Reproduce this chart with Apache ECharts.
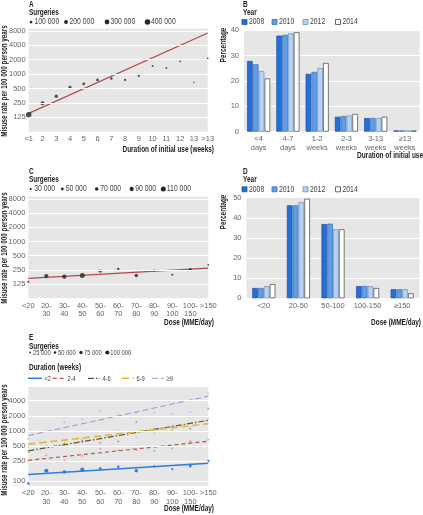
<!DOCTYPE html>
<html><head><meta charset="utf-8">
<script src="https://cdn.jsdelivr.net/npm/echarts@6/dist/echarts.min.js"></script>
<style>html,body{margin:0;padding:0;background:#fff}#c{width:423px;height:515px}</style>
</head><body><div id="c"></div>
<script>
// ---------- Panel A ----------
const weeksCats = ['<1','2','3','4','5','6','7','8','9','10','11','12','13','>13'];
const aRates = [142,245,344,530,624,757,806,757,917,1485,1347,1850,674,2140];
const aSurgeries = [400000,210000,150000,110000,100000,90000,80000,70000,60000,50000,45000,40000,30000,40000];
const aTrend = [151,7260];
const aLegend = [100000,200000,300000,400000];
const logTicks = [125,250,500,1000,2000,4000,8000];

// ---------- Panel B ----------
const bCats = ['<4\ndays','4-7\ndays','1-2\nweeks','2-3\nweeks','3-13\nweeks','≥13\nweeks'];
const b2008 = [27.9,37.9,22.8,5.9,5.4,0.5];
const b2010 = [26.6,38.2,23.6,6.2,5.4,0.5];
const b2012 = [23.9,38.8,25.1,6.4,5.4,0.5];
const b2014 = [21.0,39.2,27.1,7.0,5.9,0.5];
const years = ['2008','2010','2012','2014'];

// ---------- Panel C ----------
const doseCats = ['<20','20-\n30','30-\n40','40-\n50','50-\n60','60-\n70','70-\n80','80-\n90','90-\n100','100-\n150','>150'];
const cRates = [140,185,179,191,236,260,191,243,198,255,321];
const cSurgeries = [30000,90000,90000,110000,60000,40000,70000,30000,30000,50000,20000];
const cTrend = [165,273];
const cLegend = [30000,50000,70000,90000,110000];

// ---------- Panel D ----------
const dCats = ['<20','20-50','50-100','100-150','≥150'];
const d2008 = [5.1,46.2,36.9,6.1,4.5];
const d2010 = [5.1,46.2,37.1,6.1,4.5];
const d2012 = [6.0,47.8,34.3,6.0,4.5];
const d2014 = [7.1,49.5,34.3,5.1,2.5];

// ---------- Panel E ----------
const eNames = ['<2','2-4','4-6','6-9','≥9'];
const eLt2 = [90,161,152,169,177,194,161,196,174,200,251];
const e2to4 = [250,330,263,320,440,415,415,400,450,625,670];
const e4to6 = [380,500,560,640,580,620,1500,1100,1000,1100,2800];
const e6to9 = [480,600,600,700,750,1050,750,900,1200,1200,1700];
const eGe9 = [700,1000,1490,1700,2490,2220,2270,2310,2170,2380,5600];
const eTrendLt2 = [135,226];
const eTrend2to4 = [259,624];
const eTrend4to6 = [402,1626];
const eTrend6to9 = [545,1397];
const eTrendGe9 = [808,4930];
const eSurgLt2 = [50000,100000,75000,100000,60000,50000,75000,40000,40000,60000,50000];
const eLegend = [25000,50000,75000,100000];
const eTicks = [100,250,500,1000,2000,4000];

// ---------- styling ----------
const FAM = "'Liberation Sans',Arial,sans-serif";
const BG = '#e6e6e6';
const TXT = '#666';
const TS = 7.5;
const barColors = ['#1f6fde','#5f9de9','#b4d3f6','#ffffff'];
const barBorders = ['#2a4f8f','#3f6fae','#6d8fb8','#444'];
const eColors = ['#2f7de1','#c0504d','#5b5530','#e8b33a','#9b93d6'];
const eDash = ['solid',[4,3],[6,2,1.5,2],[7,4],[6,3]];
const eWidth = [1.5,1.2,1.2,1.6,1];

const sizeA = n => 5.5*Math.sqrt(n/400000);
const sizeC = n => 1 + 4*(n/110000);
const sizeE = n => 1 + 3.2*(n/100000);

function gridMark(ticks){
  return {
    silent:true, symbol:['none','none'], animation:false,
    lineStyle:{color:'#fff',width:1,type:'solid'},
    label:{show:true,position:'start',distance:3,color:TXT,fontSize:TS,fontFamily:FAM,formatter:p=>String(p.value)},
    data: ticks.map(t=>({yAxis:t}))
  };
}
function catAxis(i,data,bg){
  return {type:'category',gridIndex:i,data:data,boundaryGap:bg,
    axisLine:{show:false},axisTick:{show:false},splitLine:{show:false},
    axisLabel:{color:TXT,fontSize:TS,fontFamily:FAM,margin:3,lineHeight:8.5,interval:0}};
}
function logAxis(i,min,max){
  return {type:'log',logBase:2,gridIndex:i,min:min,max:max,
    axisLine:{show:false},axisTick:{show:false},splitLine:{show:false},axisLabel:{show:false}};
}
function valAxis(i,max){
  return {type:'value',gridIndex:i,min:0,max:max,interval:10,
    axisLine:{show:false},axisTick:{show:false},
    splitLine:{show:true,lineStyle:{color:'#fff',width:1}},
    axisLabel:{color:TXT,fontSize:TS,fontFamily:FAM,margin:5}};
}

const series = [];
series.push({type:'line',xAxisIndex:0,yAxisIndex:0,data:[],z:1,markLine:gridMark(logTicks)});
series.push({type:'line',xAxisIndex:2,yAxisIndex:2,data:[],z:1,markLine:gridMark(logTicks)});
series.push({type:'line',xAxisIndex:4,yAxisIndex:4,data:[],z:1,markLine:gridMark(eTicks)});

// A
series.push({type:'line',xAxisIndex:0,yAxisIndex:0,z:3,symbol:'none',
  lineStyle:{color:'#b8474a',width:1.2},
  data:[[weeksCats[0],aTrend[0]],[weeksCats[weeksCats.length-1],aTrend[1]]]});
series.push({type:'scatter',xAxisIndex:0,yAxisIndex:0,z:4,
  itemStyle:{color:'#262626'},
  symbolSize:(v,p)=>sizeA(aSurgeries[p.dataIndex]),
  data:aRates});

// B
[b2008,b2010,b2012,b2014].forEach((d,k)=>{
  series.push({type:'bar',name:years[k],xAxisIndex:1,yAxisIndex:1,data:d,barWidth:5.6,barGap:'4%',
    itemStyle:{color:barColors[k],borderColor:barBorders[k],borderWidth:0.7}});
});
// D
[d2008,d2010,d2012,d2014].forEach((d,k)=>{
  series.push({type:'bar',name:years[k],xAxisIndex:3,yAxisIndex:3,data:d,barWidth:5.6,barGap:'4%',
    itemStyle:{color:barColors[k],borderColor:barBorders[k],borderWidth:0.7}});
});

// C
series.push({type:'line',xAxisIndex:2,yAxisIndex:2,z:3,symbol:'none',
  lineStyle:{color:'#b8474a',width:1.2},
  data:[[doseCats[0],cTrend[0]],[doseCats[doseCats.length-1],cTrend[1]]]});
series.push({type:'scatter',xAxisIndex:2,yAxisIndex:2,z:4,
  itemStyle:{color:'#262626'},
  symbolSize:(v,p)=>sizeC(cSurgeries[p.dataIndex]),
  data:cRates});

// E
const ePts = [eLt2,e2to4,e4to6,e6to9,eGe9];
const eTr = [eTrendLt2,eTrend2to4,eTrend4to6,eTrend6to9,eTrendGe9];
ePts.forEach((d,k)=>{
  series.push({type:'scatter',xAxisIndex:4,yAxisIndex:4,z:3,
    itemStyle:{color:eColors[k],opacity:k===0?1:0.55},
    symbolSize:k===0?((v,p)=>sizeE(eSurgLt2[p.dataIndex])):1.8,
    data:d});
});
eTr.forEach((d,k)=>{
  series.push({type:'line',xAxisIndex:4,yAxisIndex:4,z:4,symbol:'none',
    lineStyle:{color:eColors[k],width:eWidth[k],type:eDash[k]},
    data:[[doseCats[0],d[0]],[doseCats[doseCats.length-1],d[1]]]});
});

// ---------- graphics: titles, legends, axis names ----------
const g = [];
function txt(x,y,s,opt){
  opt=opt||{};
  g.push({type:'text',x:x,y:y,rotation:opt.rot||0,scaleX:opt.sx||0.76,scaleY:1,silent:true,
    style:{text:s,fill:opt.color||'#222',font:(opt.bold?'bold ':'')+(opt.size||8.5)+'px '+FAM,
      textAlign:opt.align||'left',textVerticalAlign:'middle'}});
}
function dot(x,y,r){ g.push({type:'circle',silent:true,shape:{cx:x,cy:y,r:r},style:{fill:'#262626'}}); }
function fmtN(n){ return String(n).replace(/\B(?=(\d{3})+(?!\d))/g,' '); }
const LEG = {color:'#444',size:9,sx:0.76};
const LEGE = {color:'#444',size:8,sx:0.72};

// A
txt(29,4.5,'A',{bold:true});
txt(29,13,'Surgeries',{bold:true});
[31,66,107,147.5].forEach((x,i)=>{dot(x,22,sizeA(aLegend[i])/2);txt(x+3.5,22,fmtN(aLegend[i]),LEG);});
txt(5,81,'Misuse rate per 100 000 person years',{bold:true,rot:Math.PI/2,align:'center',size:8.5,sx:0.74});
txt(214,150,'Duration of initial use (weeks)',{bold:true,align:'right'});

// B
txt(243,4.5,'B',{bold:true});
txt(243,13,'Year',{bold:true});
[244.5,274.5,305.5,338].forEach((x,i)=>{
  g.push({type:'rect',silent:true,shape:{x:x-2.5,y:19.5,width:5,height:5},style:{fill:barColors[i],stroke:barBorders[i],lineWidth:0.8}});
  txt(x+4.5,22,years[i],LEG);
});
txt(224,45,'Percentage',{bold:true,rot:Math.PI/2,align:'center',size:8.5});
txt(357,155.5,'Duration of initial use (weeks)',{bold:true});

// C
txt(29,171.5,'C',{bold:true});
txt(29,180,'Surgeries',{bold:true});
[30.7,62.3,96.7,131.7,163.3].forEach((x,i)=>{dot(x,189,sizeC(cLegend[i])/2);txt(x+3.5,189,fmtN(cLegend[i]),LEG);});
txt(5,248,'Misuse rate per 100 000 person years',{bold:true,rot:Math.PI/2,align:'center',size:8.5,sx:0.74});
txt(214,323,'Dose (MME/day)',{bold:true,align:'right'});

// D
txt(243,171.5,'D',{bold:true});
txt(243,180,'Year',{bold:true});
[244.5,274.5,305.5,338].forEach((x,i)=>{
  g.push({type:'rect',silent:true,shape:{x:x-2.5,y:186.8,width:5,height:5},style:{fill:barColors[i],stroke:barBorders[i],lineWidth:0.8}});
  txt(x+4.5,189.3,years[i],LEG);
});
txt(224,212,'Percentage',{bold:true,rot:Math.PI/2,align:'center',size:8.5});
txt(421,323,'Dose (MME/day)',{bold:true,align:'right'});

// E
txt(29,337.5,'E',{bold:true});
txt(29,346.5,'Surgeries',{bold:true});
[30,55,81,107.3].forEach((x,i)=>{dot(x,352.5,sizeE(eLegend[i])/2);txt(x+3,352.5,fmtN(eLegend[i]),LEGE);});
txt(29,367.5,'Duration (weeks)',{bold:true});
[[28,42],[52.7,65],[88,100],[122,134],[152,164]].forEach((r,k)=>{
  g.push({type:'line',silent:true,shape:{x1:r[0],y1:378.3,x2:r[1],y2:378.3},
    style:{stroke:eColors[k],lineWidth:eWidth[k],lineDash:eDash[k]==='solid'?null:eDash[k]}});
  txt(r[1]+2.5,378.3,eNames[k],LEGE);
});
txt(5,440,'Misuse rate per 100 000 person years',{bold:true,rot:Math.PI/2,align:'center',size:8.5,sx:0.74});
txt(214,508.5,'Dose (MME/day)',{bold:true,align:'right'});

const option = {
  animation:false,
  textStyle:{fontFamily:FAM},
  grid:[
    {left:28.7,top:28.5,width:179,height:103.2,show:true,backgroundColor:BG,borderWidth:0},
    {left:244,top:30.3,width:175.6,height:101.4,show:true,backgroundColor:BG,borderWidth:0},
    {left:28.3,top:196.5,width:180,height:101.8,show:true,backgroundColor:BG,borderWidth:0},
    {left:246.5,top:197.7,width:173,height:100.6,show:true,backgroundColor:BG,borderWidth:0},
    {left:28.3,top:387,width:180,height:99,show:true,backgroundColor:BG,borderWidth:0}
  ],
  xAxis:[
    catAxis(0,weeksCats,false),
    catAxis(1,bCats,true),
    catAxis(2,doseCats,false),
    catAxis(3,dCats,true),
    catAxis(4,doseCats,false)
  ],
  yAxis:[
    logAxis(0,62.5,9000),
    valAxis(1,40),
    logAxis(2,62.5,9000),
    valAxis(3,50),
    logAxis(4,80,7500)
  ],
  series:series,
  graphic:g
};
const chart = echarts.init(document.getElementById('c'),null,{renderer:'canvas'});
chart.setOption(option);
</script></body></html>
